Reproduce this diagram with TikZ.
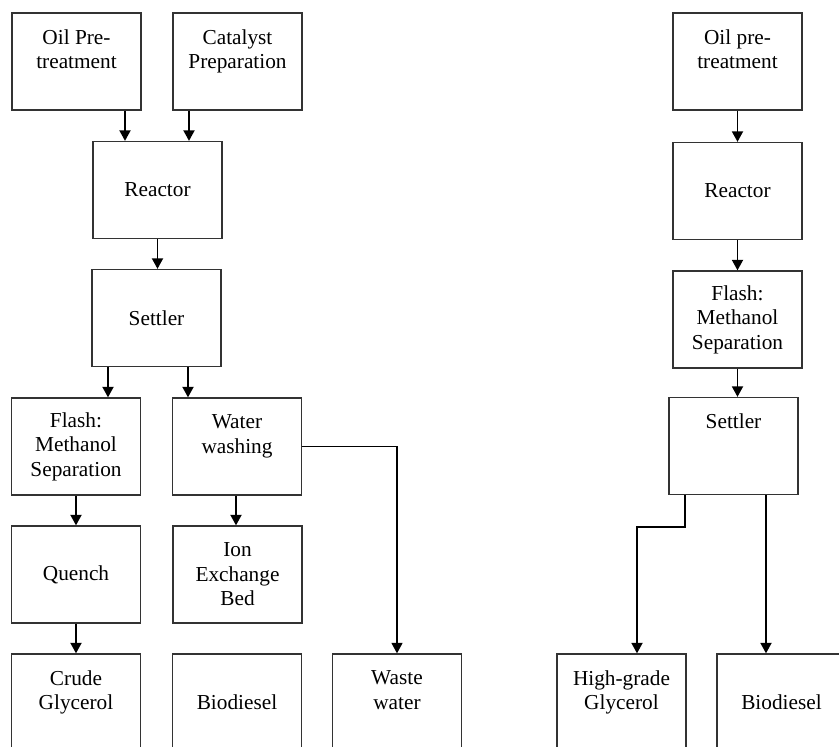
\documentclass[tikz,border=0pt]{standalone}
\usepackage{fontspec}
\setmainfont{Liberation Serif}
\usetikzlibrary{arrows.meta}
\begin{document}
\begin{tikzpicture}[x=1pt,y=-1pt,
  box/.style={draw=black!80, line width=1.3pt, minimum width=129pt, minimum height=97pt,
    inner sep=0pt, align=center, font=\fontsize{21.3}{24.5}\selectfont},
  arr/.style={draw=black, line width=1.8pt, -{Triangle[width=11pt,length=10.5pt]}},
  ln/.style={draw=black, line width=1.8pt}]
\useasboundingbox (0,0) rectangle (839,747);
\fill[white] (0,0) rectangle (839,747);
% left process
\node[box] (oilL) at (76.5,61.5) {Oil Pre-\\treatment\\\mbox{}};
\node[box] (cat) at (237.5,61.5) {Catalyst\\Preparation\\\mbox{}};
\node[box] (reactL) at (157.5,190) {Reactor};
\node[box] (settL) at (156.5,318) {Settler};
\node[box] (flashL) at (76,446.5) {Flash:\\Methanol\\Separation};
\node[box] (wash) at (237,446.5) {Water\\washing\\\mbox{}};
\node[box] (quench) at (76,574.5) {Quench};
\node[box] (ion) at (237.5,574.5) {Ion\\Exchange\\Bed};
\node[box] (crude) at (76,702.5) {Crude\\Glycerol\\\mbox{}};
\node[box] (bioL) at (237,702.5) {Biodiesel};
\node[box] (waste) at (397,702.5) {Waste\\water\\\mbox{}};
% right process
\node[box] (oilR) at (737.5,61.5) {Oil pre-\\treatment\\\mbox{}};
\node[box] (reactR) at (737.5,191) {Reactor};
\node[box] (flashR) at (737.5,319.5) {Flash:\\Methanol\\Separation};
\node[box] (settR) at (733.5,446) {Settler\\\mbox{}\\\mbox{}};
\node[box] (hg) at (621.5,702.5) {High-grade\\Glycerol\\\mbox{}};
\node[box] (bioR) at (781.5,702.5) {Biodiesel};
% left connectors
\draw[arr] ([xshift=48.5]oilL.south) -- ([xshift=48.5]oilL.south |- reactL.north);
\draw[arr] ([xshift=-48.5]cat.south) -- ([xshift=-48.5]cat.south |- reactL.north);
\draw[arr] (reactL.south) -- (reactL.south |- settL.north);
\draw[arr] ([xshift=-48.5]settL.south) -- ([xshift=-48.5]settL.south |- flashL.north);
\draw[arr] ([xshift=31.5]settL.south) -- ([xshift=31.5]settL.south |- wash.north);
\draw[arr] (flashL.south) -- (quench.north);
\draw[arr] ([xshift=-1]wash.south) -- ([xshift=-1]wash.south |- ion.north);
\draw[arr, line width=1.4pt] (wash.east) -| (waste.north);
\draw[arr] (quench.south) -- (crude.north);
% right connectors
\draw[arr] (oilR.south) -- (reactR.north);
\draw[arr] (reactR.south) -- (flashR.north);
\draw[arr] (flashR.south) -- (flashR.south |- settR.north);
\draw[arr] ([xshift=-48.5]settR.south) -- ++(0,32) -| ([xshift=15.5]hg.north);
\draw[arr] ([xshift=32.5]settR.south) -- ([xshift=32.5]settR.south |- bioR.north);
\end{tikzpicture}
\end{document}
